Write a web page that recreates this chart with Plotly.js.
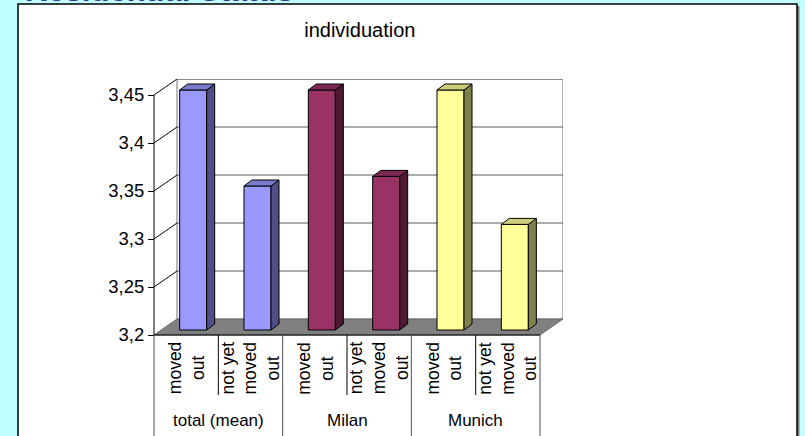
<!DOCTYPE html>
<html>
<head>
<meta charset="utf-8">
<script src="https://cdn.plot.ly/plotly-3.0.1.min.js"></script>
<style>html,body{margin:0;padding:0;background:#BFFFFF;}#chart{width:805px;height:436px;}</style>
</head>
<body>
<div id="chart"></div>
<script>
// ---- data ----
const groups = ["total (mean)", "Milan", "Munich"];
const statuses = ["moved<br>out", "not yet<br>moved<br>out"];
const totalValues = [3.45, 3.35];
const milanValues = [3.45, 3.36];
const munichValues = [3.45, 3.31];
const yTickVals = [3.2, 3.25, 3.3, 3.35, 3.4, 3.45];
const yTickText = ["3,2", "3,25", "3,3", "3,35", "3,4", "3,45"];
const chartTitle = "individuation";
const slideTitle = "Residential Status";

// ---- styles / geometry ----
const FONT = "Arial, 'Liberation Sans', sans-serif";
const frontColors = ["#9999FF", "#993366", "#FFFF99"];
const sideColors = ["#4F4F88", "#4D1933", "#80804D"];
const topColors = ["#7B7BCC", "#7A2952", "#CCCC7A"];
const seriesValues = [totalValues, milanValues, munichValues];

const W = 805, H = 436, PL = 150, PR = 563, PT = 79, PB = 338;
const PXX = 386 / 6;   // px per category
const PXY = 960;       // px per value unit
const X0 = -0.5 - 4 / PXX, X1 = 5.5 + 23 / PXX;
const Y0 = 3.2 - 3 / PXY, Y1 = 3.2 + 256 / PXY;
const DX = 23 / PXX, DY = 16 / PXY;      // full depth of the 3D box
const BX = 7 / PXX, BY = 5 / PXY;        // bar plane shift
const BDX = 8 / PXX, BDY = 6 / PXY;      // bar depth
const BW = 0.42;
const yMin = yTickVals[0], yMax = yTickVals[yTickVals.length - 1];
const xp = px => (px - PL) / (PR - PL);
const yp = py => (PB - py) / (PB - PT);

// ---- traces (bars start at the floor value yMin) ----
const traces = groups.map((g, gi) => ({
  type: "bar",
  x: statuses.map((s, si) => gi * statuses.length + si),
  y: seriesValues[gi].map(v => v - yMin),
  base: yMin,
  width: BW,
  xaxis: "x2", yaxis: "y2",
  marker: { color: frontColors[gi], line: { color: "#000", width: 1 } },
  hoverinfo: "skip", showlegend: false
}));

// ---- shapes ----
const shapes = [];
// slide box with shadow
shapes.push({ type: "rect", xref: "paper", yref: "paper", x0: xp(20), x1: xp(799.5), y0: yp(6), y1: yp(450),
  fillcolor: "#7f7f7f", line: { width: 0 }, layer: "below" });
shapes.push({ type: "rect", xref: "paper", yref: "paper", x0: xp(18), x1: xp(797), y0: yp(4), y1: yp(450),
  fillcolor: "#FFFFFF", line: { color: "#000", width: 1.5 }, layer: "below" });
// back wall
shapes.push({ type: "rect", xref: "x", yref: "y", x0: -0.5 + DX, x1: X1 - 0.001, y0: yMin + DY, y1: Y1 - 0.0005,
  fillcolor: "#FFFFFF", line: { color: "#8a8a8a", width: 1.2 }, layer: "below" });
// back gridlines
yTickVals.slice(1, -1).forEach(v => shapes.push({ type: "line", xref: "x", yref: "y",
  x0: -0.5 + DX, x1: X1, y0: v + DY, y1: v + DY, line: { color: "#5a5a5a", width: 1 }, layer: "below" }));
// floor
shapes.push({ type: "path", xref: "x", yref: "y",
  path: `M ${-0.5},${yMin} L ${5.5},${yMin} L ${5.5 + DX},${yMin + DY} L ${-0.5 + DX},${yMin + DY} Z`,
  fillcolor: "#808080", line: { color: "#6a6a6a", width: 1 }, layer: "below" });
// slanted lines from front axis to back wall
yTickVals.slice(1).forEach(v => shapes.push({ type: "line", xref: "x", yref: "y",
  x0: -0.5, x1: -0.5 + DX, y0: v, y1: v + DY, line: { color: "#000", width: 1 }, layer: "below" }));
// front axis lines
shapes.push({ type: "line", xref: "x", yref: "y", x0: -0.5, x1: -0.5, y0: yMin, y1: yMax, line: { color: "#000", width: 1 } });
shapes.push({ type: "line", xref: "x", yref: "y", x0: -0.5, x1: 5.5, y0: yMin, y1: yMin, line: { color: "#000", width: 1 } });
// category dividers
const nCat = groups.length * statuses.length;
for (let b = 0; b <= nCat; b++) {
  const isGroup = b % statuses.length === 0;
  shapes.push({ type: "line", xref: "x", yref: "paper", x0: b - 0.5, x1: b - 0.5,
    y0: yp(335), y1: isGroup ? yp(440) : yp(395),
    line: { color: isGroup ? "#505050" : "#000", width: 1 } });
}
// 3D side and top faces of bars
groups.forEach((g, gi) => seriesValues[gi].forEach((v, si) => {
  const i = gi * statuses.length + si, hw = BW / 2;
  shapes.push({ type: "path", xref: "x2", yref: "y2", layer: "above",
    path: `M ${i + hw},${yMin} L ${i + hw + BDX},${yMin + BDY} L ${i + hw + BDX},${v + BDY} L ${i + hw},${v} Z`,
    fillcolor: sideColors[gi], line: { color: "#000", width: 1 } });
  shapes.push({ type: "path", xref: "x2", yref: "y2", layer: "above",
    path: `M ${i - hw},${v} L ${i - hw + BDX},${v + BDY} L ${i + hw + BDX},${v + BDY} L ${i + hw},${v} Z`,
    fillcolor: topColors[gi], line: { color: "#000", width: 1 } });
}));

// ---- annotations ----
const annotations = [];
annotations.push({ text: "<b>" + slideTitle + "</b>", xref: "paper", yref: "paper", x: xp(23), y: yp(10),
  xanchor: "left", yanchor: "bottom", showarrow: false, font: { family: FONT, size: 31, color: "#333399" } });
groups.forEach((g, gi) => {
  statuses.forEach((s, si) => annotations.push({ text: s, xref: "x", yref: "paper",
    x: gi * statuses.length + si, y: yp(368), xanchor: "center", yanchor: "middle",
    textangle: -90, showarrow: false, align: "center",
    font: { family: FONT, size: 17.5, color: "#000" } }));
  annotations.push({ text: g, xref: "x", yref: "paper", x: gi * statuses.length + (statuses.length - 1) / 2,
    y: yp(420), xanchor: "center", yanchor: "middle", showarrow: false,
    font: { family: FONT, size: 17, color: "#000" } });
});

const layout = {
  width: W, height: H,
  margin: { l: PL, r: W - PR, t: PT, b: H - PB, pad: 0 },
  paper_bgcolor: "#BFFFFF", plot_bgcolor: "rgba(0,0,0,0)",
  font: { family: FONT, color: "#000" },
  title: { text: chartTitle, x: 409 / W, xanchor: "center", xref: "paper", yref: "container",
    y: 1 - 30 / H, yanchor: "middle", font: { family: FONT, size: 20, color: "#000" } },
  barmode: "overlay",
  showlegend: false,
  xaxis: { range: [X0, X1], showticklabels: false, showgrid: false, zeroline: false, ticks: "", showline: false, fixedrange: true },
  yaxis: { range: [Y0, Y1], anchor: "free", position: xp(154), tickvals: yTickVals, ticktext: yTickText,
    ticks: "outside", ticklen: 6, tickcolor: "#000", tickwidth: 1, showgrid: false, zeroline: false, showline: false,
    tickfont: { family: FONT, size: 18.5, color: "#000" }, fixedrange: true },
  xaxis2: { overlaying: "x", range: [X0 - BX, X1 - BX], visible: false, fixedrange: true },
  yaxis2: { overlaying: "y", range: [Y0 - BY, Y1 - BY], visible: false, fixedrange: true },
  shapes: shapes,
  annotations: annotations
};

Plotly.newPlot("chart", traces, layout, { staticPlot: true, displayModeBar: false });
</script>
</body>
</html>
